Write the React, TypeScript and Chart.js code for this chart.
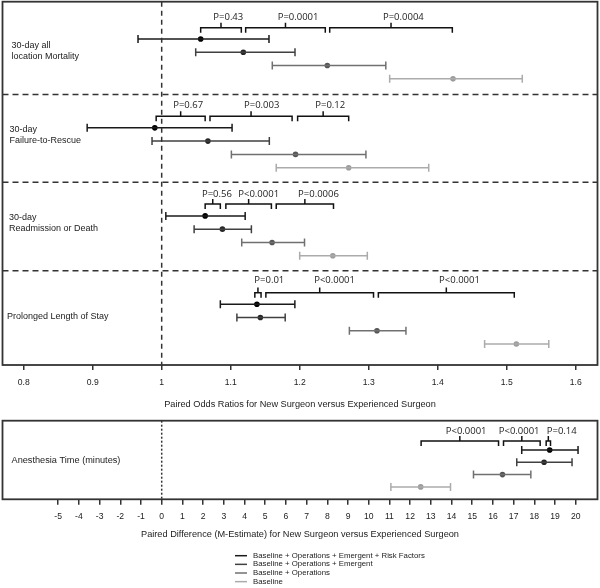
import React, { useEffect, useRef } from "react";
import { Chart, registerables } from "chart.js";

Chart.register(...registerables);

const FONT = "'Liberation Sans', Arial, sans-serif";
const P_FONT = "'Open Sans', 'Liberation Sans', sans-serif";

// ---------- data ----------
const MODELS = [
  "Baseline + Operations + Emergent + Risk Factors",
  "Baseline + Operations + Emergent",
  "Baseline + Operations",
  "Baseline",
];
const OUTCOME_LINES = [
  ["30-day all", "location Mortality"],
  ["30-day", "Failure-to-Rescue"],
  ["30-day", "Readmission or Death"],
  ["Prolonged Length of Stay"],
];
// odds ratios [outcome][model]
const OR_EST = [
  [1.0565, 1.1183, 1.24, 1.4222],
  [0.99, 1.067, 1.194, 1.271],
  [1.063, 1.088, 1.16, 1.248],
  [1.138, 1.143, 1.312, 1.514],
];
const OR_LO = [
  [0.9657, 1.0493, 1.1603, 1.3304],
  [0.892, 0.986, 1.101, 1.166],
  [1.006, 1.047, 1.116, 1.2],
  [1.085, 1.109, 1.272, 1.468],
];
const OR_HI = [
  [1.1555, 1.1932, 1.3248, 1.5226],
  [1.102, 1.156, 1.296, 1.387],
  [1.121, 1.13, 1.207, 1.298],
  [1.193, 1.179, 1.354, 1.561],
];
const OR_P = [
  ["P=0.43", "P=0.0001", "P=0.0004"],
  ["P=0.67", "P=0.003", "P=0.12"],
  ["P=0.56", "P<0.0001", "P=0.0006"],
  ["P=0.01", "P<0.0001", "P<0.0001"],
];
const OR_BRACKET_FROM = [
  [1.0565, 1.1217, 1.2435],
  [0.992, 1.07, 1.197],
  [1.063, 1.093, 1.166],
  [1.135, 1.151, 1.314],
];
const OR_BRACKET_TO = [
  [1.1154, 1.2371, 1.4212],
  [1.063, 1.189, 1.271],
  [1.085, 1.159, 1.249],
  [1.144, 1.307, 1.511],
];
const OR_TICKS = [0.8, 0.9, 1, 1.1, 1.2, 1.3, 1.4, 1.5, 1.6];
const OR_TICK_LABELS = ["0.8", "0.9", "1", "1.1", "1.2", "1.3", "1.4", "1.5", "1.6"];
const OR_TITLE = "Paired Odds Ratios for New Surgeon versus Experienced Surgeon";

const AN_LABEL = "Anesthesia Time (minutes)";
const AN_EST = [18.74, 18.47, 16.46, 12.51];
const AN_LO = [17.39, 17.15, 15.06, 11.07];
const AN_HI = [20.11, 19.82, 17.83, 13.95];
const AN_P = ["P<0.0001", "P<0.0001", "P=0.14"];
const AN_BRACKET_FROM = [12.53, 16.51, 18.57];
const AN_BRACKET_TO = [16.27, 18.28, 18.78];
const AN_TICKS = [-5, -4, -3, -2, -1, 0, 1, 2, 3, 4, 5, 6, 7, 8, 9, 10, 11, 12, 13, 14, 15, 16, 17, 18, 19, 20];
const AN_TITLE = "Paired Difference (M-Estimate) for New Surgeon versus Experienced Surgeon";

// ---------- layout (not data) ----------
const OR_MIN = 0.7693;
const OR_MAX = 1.6316;
const TOP_YMAX = 27.36;
const GROUP_ROW0 = [2.81, 9.5, 16.13, 22.78];
const ROW_STEP = 1;
const TOP_SEPARATORS = [6.99, 13.6, 20.26];
const TOP_BRACKET_TOP = [1.96, 8.63, 15.23, 21.91];
const TOP_P_Y = [1.17, 7.83, 14.48, 21.0];
const OR_P_X = [
  [1.0748, 1.1681, 1.3207],
  [1.0167, 1.1193, 1.2226],
  [1.0583, 1.111, 1.1977],
  [1.1343, 1.221, 1.402],
];
const LABEL_CENTER = [3.72, 10.01, 16.7, 23.74];
const LABEL_X = [9, 7, 6.5, 4.5];
const LABEL_GAP = 0.83;
const TOP_LEG = 0.38;

const AN_MIN = -7.69;
const AN_MAX = 21.05;
const BOT_YMAX = 6.39;
const AN_ROW0 = 2.38;
const AN_BRACKET_TOP = 1.65;
const AN_P_Y = 0.84;
const AN_P_X = [13.72, 16.28, 18.6];
const AN_LABEL_Y = 3.2;
const BOT_LEG = 0.41;

const LINE_COLORS = ["#1a1a1a", "#404040", "#707070", "#ababab"];
const POINT_COLORS = ["#000000", "#262626", "#555555", "#9c9c9c"];
const FRAME = "#333333";
const TEXT = "#222222";

// ---------- helpers ----------
function refLine(data: any[], dash: number[]) {
  return {
    data,
    showLine: true,
    borderColor: FRAME,
    borderWidth: 1.5,
    borderDash: dash,
    pointRadius: 0,
  };
}
function errorBar(lo: number, hi: number, y: number, m: number) {
  return {
    data: [
      { x: lo, y },
      { x: hi, y },
    ],
    showLine: true,
    borderColor: LINE_COLORS[m],
    borderWidth: 1.5,
    pointStyle: "line",
    pointRotation: 90,
    pointRadius: 4,
    pointBorderColor: LINE_COLORS[m],
    pointBackgroundColor: LINE_COLORS[m],
    pointBorderWidth: 1.5,
  };
}
function bracket(a: number, b: number, top: number, leg: number) {
  const mid = (a + b) / 2;
  return {
    data: [
      { x: a, y: top + leg },
      { x: a, y: top },
      { x: mid, y: top },
      { x: mid, y: top - leg },
      { x: mid, y: top },
      { x: b, y: top },
      { x: b, y: top + leg },
    ],
    showLine: true,
    borderColor: "#111111",
    borderWidth: 1.5,
    pointRadius: 0,
  };
}

function buildTop() {
  const ds: any[] = [];
  ds.push(refLine([{ x: 1, y: 0 }, { x: 1, y: TOP_YMAX }], [5, 4]));
  TOP_SEPARATORS.forEach((s) => ds.push(refLine([{ x: OR_MIN, y: s }, { x: OR_MAX, y: s }], [6, 4])));
  MODELS.forEach((_, m) =>
    OUTCOME_LINES.forEach((__, o) => ds.push(errorBar(OR_LO[o][m], OR_HI[o][m], GROUP_ROW0[o] + m * ROW_STEP, m)))
  );
  MODELS.forEach((name, m) =>
    ds.push({
      label: name,
      data: OUTCOME_LINES.map((_, o) => ({ x: OR_EST[o][m], y: GROUP_ROW0[o] + m * ROW_STEP })),
      pointRadius: 2.8,
      pointBackgroundColor: POINT_COLORS[m],
      pointBorderWidth: 0,
      showLine: false,
    })
  );
  OR_BRACKET_FROM.forEach((row, o) =>
    row.forEach((a, k) => ds.push(bracket(a, OR_BRACKET_TO[o][k], TOP_BRACKET_TOP[o], TOP_LEG)))
  );
  return ds;
}

function buildBottom() {
  const ds: any[] = [];
  ds.push(refLine([{ x: 0, y: 0 }, { x: 0, y: BOT_YMAX }], [2, 2]));
  MODELS.forEach((_, m) => ds.push(errorBar(AN_LO[m], AN_HI[m], AN_ROW0 + m * ROW_STEP, m)));
  MODELS.forEach((name, m) =>
    ds.push({
      label: name,
      data: [{ x: AN_EST[m], y: AN_ROW0 + m * ROW_STEP }],
      pointRadius: 2.8,
      pointBackgroundColor: POINT_COLORS[m],
      pointBorderWidth: 0,
      showLine: false,
    })
  );
  AN_BRACKET_FROM.forEach((a, k) => ds.push(bracket(a, AN_BRACKET_TO[k], AN_BRACKET_TOP, BOT_LEG)));
  return ds;
}

const topPlugin = {
  id: "topDecor",
  afterDatasetsDraw(chart: any) {
    const { ctx, chartArea: a, scales } = chart;
    const x = scales.x;
    const y = scales.y;
    ctx.save();
    ctx.strokeStyle = FRAME;
    ctx.lineWidth = 1.8;
    ctx.setLineDash([]);
    ctx.strokeRect(a.left, a.top, a.right - a.left, a.bottom - a.top);
    ctx.fillStyle = TEXT;
    ctx.textBaseline = "middle";
    ctx.textAlign = "left";
    ctx.font = `9px ${FONT}`;
    OUTCOME_LINES.forEach((lines, o) => {
      lines.forEach((t, i) => {
        const yy = y.getPixelForValue(LABEL_CENTER[o] + (i - (lines.length - 1) / 2) * LABEL_GAP);
        ctx.fillText(t, a.left + LABEL_X[o], yy);
      });
    });
    ctx.font = `9.5px ${P_FONT}`;
    OR_P.forEach((row, o) =>
      row.forEach((t, k) => ctx.fillText(t, x.getPixelForValue(OR_P_X[o][k]), y.getPixelForValue(TOP_P_Y[o])))
    );
    ctx.restore();
  },
};

const bottomPlugin = {
  id: "bottomDecor",
  afterDatasetsDraw(chart: any) {
    const { ctx, chartArea: a, scales } = chart;
    const x = scales.x;
    const y = scales.y;
    ctx.save();
    ctx.strokeStyle = FRAME;
    ctx.lineWidth = 1.8;
    ctx.setLineDash([]);
    ctx.strokeRect(a.left, a.top, a.right - a.left, a.bottom - a.top);
    ctx.fillStyle = TEXT;
    ctx.textBaseline = "middle";
    ctx.textAlign = "left";
    ctx.font = `9.2px ${FONT}`;
    ctx.fillText(AN_LABEL, a.left + 9, y.getPixelForValue(AN_LABEL_Y));
    ctx.font = `9.5px ${P_FONT}`;
    AN_P.forEach((t, k) => ctx.fillText(t, x.getPixelForValue(AN_P_X[k]), y.getPixelForValue(AN_P_Y)));
    // legend
    ctx.font = `7.8px ${FONT}`;
    MODELS.forEach((name, m) => {
      const yy = a.bottom + 56.4 + m * 8.65;
      ctx.strokeStyle = LINE_COLORS[m];
      ctx.lineWidth = 1.5;
      ctx.beginPath();
      ctx.moveTo(235, yy);
      ctx.lineTo(247, yy);
      ctx.stroke();
      ctx.fillStyle = TEXT;
      ctx.fillText(name, 253, yy);
    });
    ctx.restore();
  },
};

function axisX(
  min: number,
  max: number,
  ticks: number[],
  labels: string[],
  title: string,
  tickLen: number,
  pad: number,
  axisHeight: number
) {
  return {
    type: "linear",
    position: "bottom",
    min,
    max,
    afterBuildTicks: (s: any) => {
      s.ticks = ticks.map((v) => ({ value: v }));
    },
    afterFit: (s: any) => {
      s.height = axisHeight;
    },
    ticks: {
      callback: (_v: any, i: number) => labels[i],
      font: { family: FONT, size: 8.6 },
      color: TEXT,
      padding: pad,
      maxRotation: 0,
      autoSkip: false,
    },
    grid: { drawOnChartArea: false, drawTicks: true, tickLength: tickLen, color: FRAME, lineWidth: 1.5 },
    border: { display: false },
    title: {
      display: true,
      text: title,
      font: { family: FONT, size: 9.2 },
      color: TEXT,
      padding: { top: 0, bottom: 0 },
    },
  };
}

export default function App() {
  const topRef = useRef<HTMLCanvasElement | null>(null);
  const botRef = useRef<HTMLCanvasElement | null>(null);

  useEffect(() => {
    document.body.style.margin = "0";
    const common = {
      animation: false,
      responsive: false,
      events: [],
      plugins: { legend: { display: false }, tooltip: { enabled: false } },
    };
    const top = new Chart(topRef.current as HTMLCanvasElement, {
      type: "scatter",
      data: { datasets: buildTop() },
      options: {
        ...common,
        layout: { autoPadding: false, padding: { left: 2.5, right: 2.5, top: 1.7, bottom: 0 } },
        scales: {
          x: axisX(OR_MIN, OR_MAX, OR_TICKS, OR_TICK_LABELS, OR_TITLE, 5, 7.2, 45),
          y: { type: "linear", display: false, min: 0, max: TOP_YMAX, reverse: true },
        },
      } as any,
      plugins: [topPlugin],
    } as any);
    const bot = new Chart(botRef.current as HTMLCanvasElement, {
      type: "scatter",
      data: { datasets: buildBottom() },
      options: {
        ...common,
        layout: { autoPadding: false, padding: { left: 2.5, right: 2.5, top: 10.7, bottom: 47.6 } },
        scales: {
          x: axisX(AN_MIN, AN_MAX, AN_TICKS, AN_TICKS.map(String), AN_TITLE, 5.5, 7.1, 41.1),
          y: { type: "linear", display: false, min: 0, max: BOT_YMAX, reverse: true },
        },
      } as any,
      plugins: [bottomPlugin],
    } as any);
    return () => {
      top.destroy();
      bot.destroy();
    };
  }, []);

  return (
    <div style={{ position: "absolute", left: 0, top: 0, width: 600, height: 588, background: "#fff" }}>
      <canvas ref={topRef} width={600} height={410} style={{ position: "absolute", left: 0, top: 0 }} />
      <canvas ref={botRef} width={600} height={178} style={{ position: "absolute", left: 0, top: 410 }} />
    </div>
  );
}
